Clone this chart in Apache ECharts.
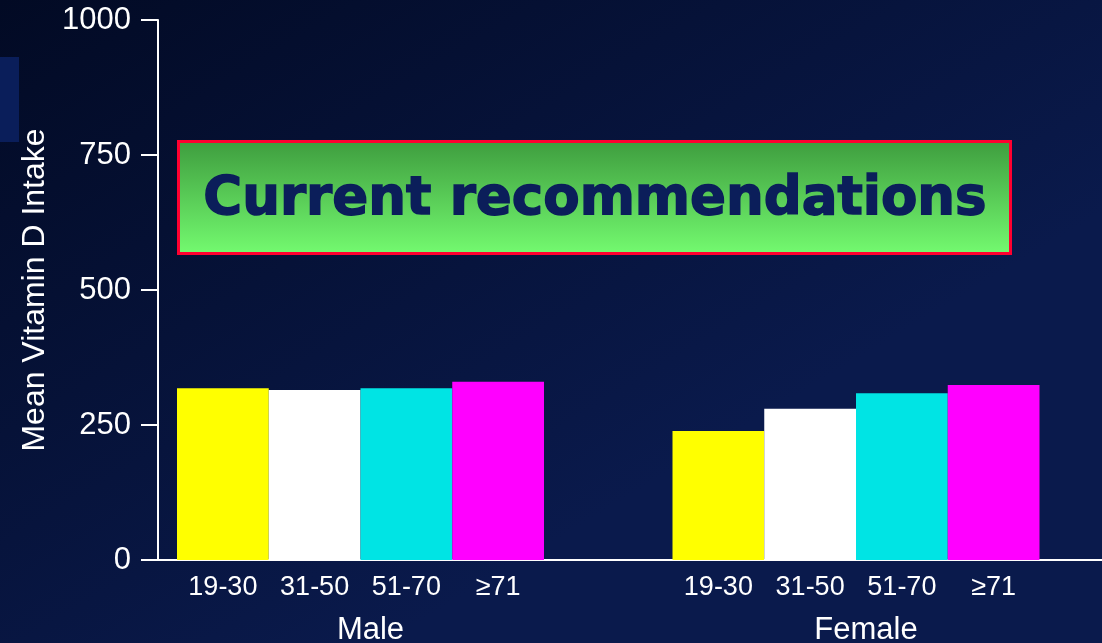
<!DOCTYPE html>
<html><head><meta charset="utf-8">
<script src="https://cdn.jsdelivr.net/npm/echarts@6/dist/echarts.min.js"></script>
<style>html,body{margin:0;padding:0;background:#030c2a;overflow:hidden}#c{width:1102px;height:643px}</style>
</head><body><div id="c"></div>
<script>
// ---- data ----
const groups = ['Male', 'Female'];
const ageGroups = ['19-30', '31-50', '51-70', '\u226571'];
const age1930 = [318, 239];
const age3150 = [315, 280];
const age5170 = [318, 309];
const age71plus = [330, 324];
const yMin = 0, yMax = 1000, yStep = 250;
const yTitle = 'Mean Vitamin D Intake';
const calloutText = 'Current recommendations';
// ---- style ----
const barColors = ['#ffff00', '#ffffff', '#00e4e4', '#ff00ff'];
const seriesValues = [age1930, age3150, age5170, age71plus];
const FONT = '"Liberation Sans", Arial, sans-serif';

const chart = echarts.init(document.getElementById('c'), null, {renderer: 'canvas'});
chart.setOption({
  animation: false,
  backgroundColor: new echarts.graphic.LinearGradient(0, 0, 0.35, 1, [
    {offset: 0, color: '#020a24'},
    {offset: 1, color: '#0a1a4c'}
  ]),
  textStyle: {fontFamily: FONT},
  grid: [
    {left: 112.75, right: -1.75, top: 20, bottom: 83, outerBoundsMode: 'none', containLabel: false},
    {left: 158, right: 0, top: 20, bottom: 83, outerBoundsMode: 'none', containLabel: false}
  ],
  xAxis: [
    {gridIndex: 0, type: 'category', data: groups,
     axisLine: {show: false}, axisTick: {show: false}, splitLine: {show: false},
     axisLabel: {color: '#ffffff', fontSize: 31, margin: 55, fontFamily: FONT, padding: [0, 0, 0, 20]}},
    {gridIndex: 1, type: 'value', min: 0, max: 1,
     axisLine: {show: true, lineStyle: {color: '#ffffff', width: 2}},
     axisTick: {show: false}, axisLabel: {show: false}, splitLine: {show: false}}
  ],
  yAxis: [
    {gridIndex: 0, type: 'value', min: yMin, max: yMax, show: false, splitLine: {show: false}},
    {gridIndex: 1, type: 'value', min: yMin, max: yMax, interval: yStep,
     axisLine: {show: true, lineStyle: {color: '#ffffff', width: 2}},
     axisTick: {show: true, length: 17, lineStyle: {color: '#ffffff', width: 2}},
     axisLabel: {color: '#ffffff', fontSize: 31, margin: 27, fontFamily: FONT,
                 formatter: v => String(v)},
     splitLine: {show: false},
     name: yTitle, nameLocation: 'middle', nameGap: 107,
     nameTextStyle: {color: '#ffffff', fontSize: 32, fontFamily: FONT}}
  ],
  series: ageGroups.map((name, i) => ({
    type: 'bar', name: name, xAxisIndex: 0, yAxisIndex: 0,
    data: seriesValues[i], barWidth: 91.75, barGap: '0%',
    itemStyle: {color: barColors[i]}, silent: true,
    label: {show: true, position: 'bottom', distance: 14, formatter: '{a}',
            color: '#ffffff', fontSize: 27, fontFamily: FONT}
  })),
  graphic: [
    {type: 'rect', z: 0, shape: {x: 0, y: 57, width: 19, height: 85},
     style: {fill: '#0a1e5a'}},
    {type: 'rect', z: 10, shape: {x: 178.5, y: 141.5, width: 832, height: 112},
     style: {
       fill: new echarts.graphic.LinearGradient(0, 0, 0, 1, [
         {offset: 0, color: '#3e9c3e'}, {offset: 1, color: '#74fb70'}
       ]),
       stroke: '#ff0030', lineWidth: 3
     }},
    {type: 'text', z: 11, x: 595, y: 200,
     style: {text: calloutText, fill: '#0b1e5a', stroke: '#0b1e5a', lineWidth: 1.5,
             align: 'center', verticalAlign: 'middle',
             font: 'bold 53px "DejaVu Sans", sans-serif'}}
  ]
});
</script>
</body></html>
